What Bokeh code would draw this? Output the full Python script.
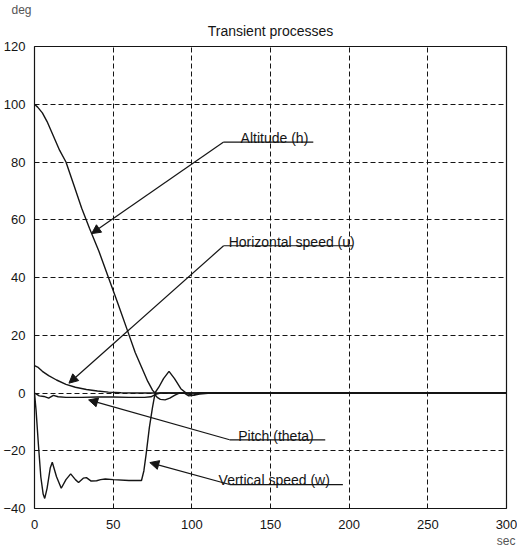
from bokeh.plotting import figure
from bokeh.models import Range1d, Arrow, NormalHead, FixedTicker, Title
from bokeh.core.properties import value
from bokeh.embed import file_html
from bokeh.resources import INLINE

# ---- data ----
x_ticks = [0, 50, 100, 150, 200, 250, 300]
y_ticks = [-40, -20, 0, 20, 40, 60, 80, 100, 120]

alt_t = [0, 2, 5, 8, 12, 16, 20, 25, 30, 35, 41, 47, 53, 59.5, 64, 68, 72, 75, 76.5,
         79, 82, 85.5, 89, 93, 97, 101, 105, 112, 300]
alt_y = [100, 99, 97, 94, 89, 84, 80, 72, 64, 57, 49, 40, 31, 21, 14, 9, 4, 1, 0,
         2, 5, 7.5, 5, 1.5, -0.3, -0.8, -0.4, 0, 0]

u_t = [0, 2, 5, 9, 14, 20, 26, 33, 40, 47, 55, 65, 300]
u_y = [9.5, 9, 7.5, 6, 4.5, 3, 2, 1.2, 0.7, 0.3, 0.1, 0, 0]

th_t = [0, 1, 3, 6, 9, 12, 15, 20, 30, 40, 50, 60, 70, 74, 77, 80, 95, 98, 101, 104, 300]
th_y = [0, -0.3, -1, -1.2, -1.8, -0.8, -1.3, -1.5, -1.5, -1.4, -1.4, -1.5, -1.5, -1.3, -0.5, 0, 0, -1, -0.8, 0, 0]

w_t = [0, 1, 2.5, 4, 5.5, 6.5, 8, 10, 11.3, 14, 17, 20, 23, 26, 28, 31, 33, 36, 39.5, 42, 45,
       50, 60, 68, 69.5, 71, 73, 75, 76.5, 78, 80, 83, 86, 89, 92, 300]
w_y = [0, -6, -18, -29, -35, -36.5, -33, -26, -24, -29, -33, -30, -28, -30, -31, -29.5, -29.3,
       -30.5, -30.4, -30, -29.8, -30, -30.3, -30.3, -27, -21, -12, -5, -0.5, -1.5, -2.2, -2.4,
       -1.8, -0.8, 0, 0]

# annotation anchors: label text, underline corner, underline end, arrow tip, text start
ann_text = ["Altitude (h)", "Horizontal speed (u)", "Pitch (theta)", "Vertical speed (w)"]
ann_cx = [120.2, 120.2, 124.0, 124.0]
ann_cy = [86.9, 51.0, -16.2, -31.7]
ann_ex = [177.2, 202.3, 184.8, 196.0]
ann_tx = [36.3, 21.9, 34.4, 73.3]
ann_ty = [55.2, 3.4, -2.4, -24.1]
ann_lx = [131.0, 123.4, 129.5, 117.0]
ann_ly = [y + 1.4 for y in ann_cy]

FONT = "Liberation Sans"
INK = "#151515"

p = figure(width=517, height=547, output_backend="svg", toolbar_location=None,
           x_range=Range1d(0, 300), y_range=Range1d(-40, 120),
           min_border_left=27, min_border_right=11, min_border_top=46, min_border_bottom=37)
p.background_fill_color = "white"
p.border_fill_color = "white"
p.outline_line_color = INK
p.outline_line_width = 1.2

# outermost title row: unit of the vertical axis
p.title.text = "deg"
p.title.align = "left"
p.title.offset = -23
try:
    p.title.standoff = -9
except Exception:
    p.title.standoff = 0
p.title.text_font = FONT
p.title.text_font_size = "12px"
p.title.text_font_style = "normal"
p.title.text_color = "#555555"

p.add_layout(Title(text="Transient processes", align="center", offset=-6, standoff=16,
                   text_font=FONT, text_font_size="14px", text_font_style="normal",
                   text_color=INK), "above")
p.add_layout(Title(text="sec", align="right", offset=-9, standoff=0, text_font=FONT,
                   text_font_size="12px", text_font_style="normal", text_color="#555555"), "below")

for ax in (p.xaxis, p.yaxis):
    ax.axis_line_color = None
    ax.major_tick_line_color = None
    ax.minor_tick_line_color = None
    ax.major_label_text_font = FONT
    ax.major_label_text_font_size = "13px"
    ax.major_label_text_color = INK
p.xaxis.ticker = FixedTicker(ticks=x_ticks)
p.yaxis.ticker = FixedTicker(ticks=y_ticks)
p.xaxis.major_label_standoff = 5
p.yaxis.major_label_standoff = 3

for g in (p.xgrid, p.ygrid):
    g.grid_line_color = INK
    g.grid_line_dash = "5 3"
    g.grid_line_width = 1

lw = 1.4
p.line(alt_t, alt_y, line_color=INK, line_width=lw)
p.line(u_t, u_y, line_color=INK, line_width=lw)
p.line(th_t, th_y, line_color=INK, line_width=lw)
p.line(w_t, w_y, line_color=INK, line_width=lw)

for i in range(len(ann_text)):
    p.line([ann_cx[i], ann_ex[i]], [ann_cy[i], ann_cy[i]], line_color=INK, line_width=1.2)
    p.add_layout(Arrow(end=NormalHead(size=9, fill_color=INK, line_color=INK),
                       x_start=ann_cx[i], y_start=ann_cy[i], x_end=ann_tx[i], y_end=ann_ty[i],
                       line_color=INK, line_width=1.2))

p.text(x=ann_lx, y=ann_ly, text=ann_text, text_font=value(FONT), text_font_size="14px",
       text_color=INK, text_baseline="alphabetic", text_align="left")

open("out.html", "w").write(file_html(p, INLINE))
